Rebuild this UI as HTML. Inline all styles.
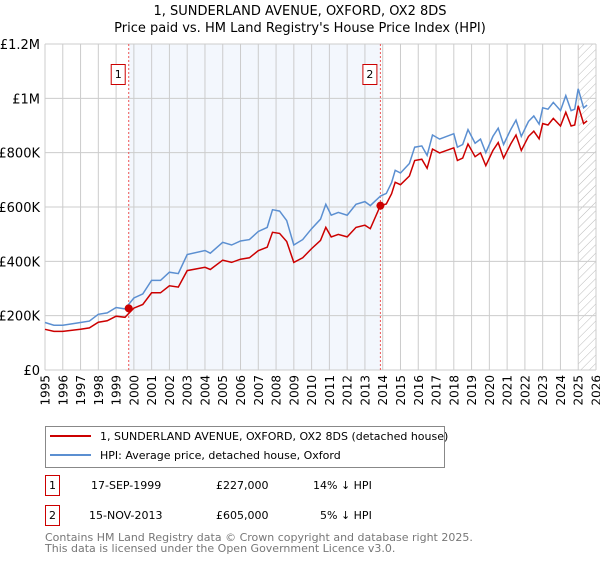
<!DOCTYPE html>
<html><head><meta charset="utf-8"><style>
body{margin:0;background:#fff;font-family:"DejaVu Sans","Liberation Sans",sans-serif;}
svg text{font-family:"DejaVu Sans","Liberation Sans",sans-serif;}
</style></head><body>
<svg id="chart" width="600" height="560" xmlns="http://www.w3.org/2000/svg">
<defs><pattern id="hatch" width="6" height="6" patternUnits="userSpaceOnUse" patternTransform="rotate(45)"><line x1="0" y1="0" x2="0" y2="6" stroke="#bbb" stroke-width="1"/></pattern></defs>
<text x="300" y="15" text-anchor="middle" font-size="13">1, SUNDERLAND AVENUE, OXFORD, OX2 8DS</text>
<text x="300" y="32" text-anchor="middle" font-size="13">Price paid vs. HM Land Registry's House Price Index (HPI)</text>
<g id="plot"></g>
<g>
<rect x="45.5" y="426.5" width="399" height="41" fill="#fff" stroke="#888"/>
<line x1="50" y1="436" x2="91" y2="436" stroke="#cc0000" stroke-width="2"/>
<text x="100" y="440" font-size="11">1, SUNDERLAND AVENUE, OXFORD, OX2 8DS (detached house)</text>
<line x1="50" y1="455" x2="91" y2="455" stroke="#5b8fd1" stroke-width="2"/>
<text x="100" y="459" font-size="11">HPI: Average price, detached house, Oxford</text>
</g>
<g font-size="11">
<rect x="45.5" y="475.5" width="14" height="20" fill="#fff" stroke="#cc0000"/>
<text x="52.5" y="489" text-anchor="middle">1</text>
<text x="91" y="489">17-SEP-1999</text>
<text x="216" y="489">£227,000</text>
<text x="313" y="489">14% ↓ HPI</text>
<rect x="45.5" y="505.5" width="14" height="20" fill="#fff" stroke="#cc0000"/>
<text x="52.5" y="519" text-anchor="middle">2</text>
<text x="89" y="519">15-NOV-2013</text>
<text x="216" y="519">£605,000</text>
<text x="320" y="519">5% ↓ HPI</text>
</g>
<text x="45" y="541" font-size="11" fill="#777">Contains HM Land Registry data © Crown copyright and database right 2025.</text>
<text x="45" y="552" font-size="11" fill="#777">This data is licensed under the Open Government Licence v3.0.</text>
</svg>
<script>
const dates=[1995,1995.5,1996,1997,1997.5,1998,1998.5,1999,1999.5,2000,2000.5,2001,2001.5,2002,2002.5,2003,2004,2004.3,2005,2005.5,2006,2006.5,2007,2007.5,2007.8,2008.2,2008.6,2009,2009.5,2010,2010.5,2010.8,2011.1,2011.5,2012,2012.5,2013,2013.3,2013.87,2014.2,2014.5,2014.7,2015,2015.5,2015.8,2016.2,2016.5,2016.8,2017.2,2018,2018.2,2018.5,2018.8,2019.2,2019.5,2019.8,2020.2,2020.5,2020.8,2021.2,2021.5,2021.8,2022.2,2022.5,2022.8,2023,2023.3,2023.6,2024,2024.3,2024.6,2024.8,2025,2025.3,2025.5];
const hpiValues=[175,165,165,175,180,205,210,230,225,265,280,330,330,360,355,425,440,430,470,460,475,480,510,525,590,585,550,460,480,520,555,610,570,580,570,610,620,605,640,650,690,735,725,760,820,825,790,865,850,870,820,830,885,835,850,800,860,890,830,885,920,860,915,935,905,965,960,985,955,1010,955,960,1035,965,975];
const priceValues=[150,142,142,150,155,176,181,198,194,228,241,284,284,310,305,366,378,370,404,396,408,413,439,452,507,503,473,396,413,447,477,525,490,499,490,525,533,520,605,611,649,691,682,714,771,776,743,813,799,818,771,780,832,785,799,752,808,837,780,832,865,808,860,879,851,907,902,926,898,949,898,902,973,907,917];
const yTicks=[0,200,400,600,800,1000,1200];
const yTickLabels=["£0","£200K","£400K","£600K","£800K","£1M","£1.2M"];
const xTicks=[1995,1996,1997,1998,1999,2000,2001,2002,2003,2004,2005,2006,2007,2008,2009,2010,2011,2012,2013,2014,2015,2016,2017,2018,2019,2020,2021,2022,2023,2024,2025,2026];
const saleDates=[1999.71,2013.87];
const salePrices=[227,605];
const saleLabels=["1","2"];
const L=45,R=596,T=44,B=370;
const X=v=>L+(v-1995)/(2026-1995)*(R-L);
const Y=v=>B-v/1200*(B-T);
const NS="http://www.w3.org/2000/svg";
const g=document.getElementById('plot');
function mk(t,a){const e=document.createElementNS(NS,t);for(const k in a)e.setAttribute(k,a[k]);g.appendChild(e);return e;}
let e=mk('rect',{x:X(saleDates[0]),y:T,width:X(saleDates[1])-X(saleDates[0]),height:B-T,fill:'#eef3fc',opacity:0.7});


e=mk('rect',{x:X(2025),y:T,width:R-X(2025),height:B-T,fill:'url(#hatch)'});


xTicks.forEach(v=>{
 let l=mk('line',{x1:X(v),x2:X(v),y1:T,y2:B,stroke:'#ccc','stroke-width':1});
 
 
 let t=mk('text',{x:0,y:0,'text-anchor':'end','font-size':12,transform:'translate('+(X(v)+4.5)+','+(B+5)+') rotate(-90)'});
 t.textContent=v;
 
 
});
yTicks.forEach((v,i)=>{
 let l=mk('line',{x1:L,x2:R,y1:Y(v),y2:Y(v),stroke:'#ccc','stroke-width':1});
 
 
 let t=mk('text',{x:L-5,y:Y(v)+5,'text-anchor':'end','font-size':13});
 t.textContent=yTickLabels[i];
 
 
});
saleDates.forEach((d,i)=>{
 let l=mk('line',{x1:X(d),x2:X(d),y1:T,y2:B,stroke:'#e55','stroke-width':1,'stroke-dasharray':'2,2'});
 
 
 let r=mk('rect',{x:X(d)-17.5,y:64.5,width:14,height:20,fill:'#fff',stroke:'#cc0000'});
 
 
 let t=mk('text',{x:X(d)-10.5,y:78,'text-anchor':'middle','font-size':11});
 t.textContent=saleLabels[i];
 
 
});
const pts=a=>dates.map((d,i)=>X(d).toFixed(1)+','+Y(a[i]).toFixed(1)).join(' ');
e=mk('polyline',{points:pts(hpiValues),fill:'none',stroke:'#5b8fd1','stroke-width':1.5});


e=mk('polyline',{points:pts(priceValues),fill:'none',stroke:'#cc0000','stroke-width':1.5});


saleDates.forEach((d,i)=>{
 let c=mk('circle',{cx:X(d),cy:Y(salePrices[i]),r:4,fill:'#cc0000'});
 
 
});
</script>
</body></html>
